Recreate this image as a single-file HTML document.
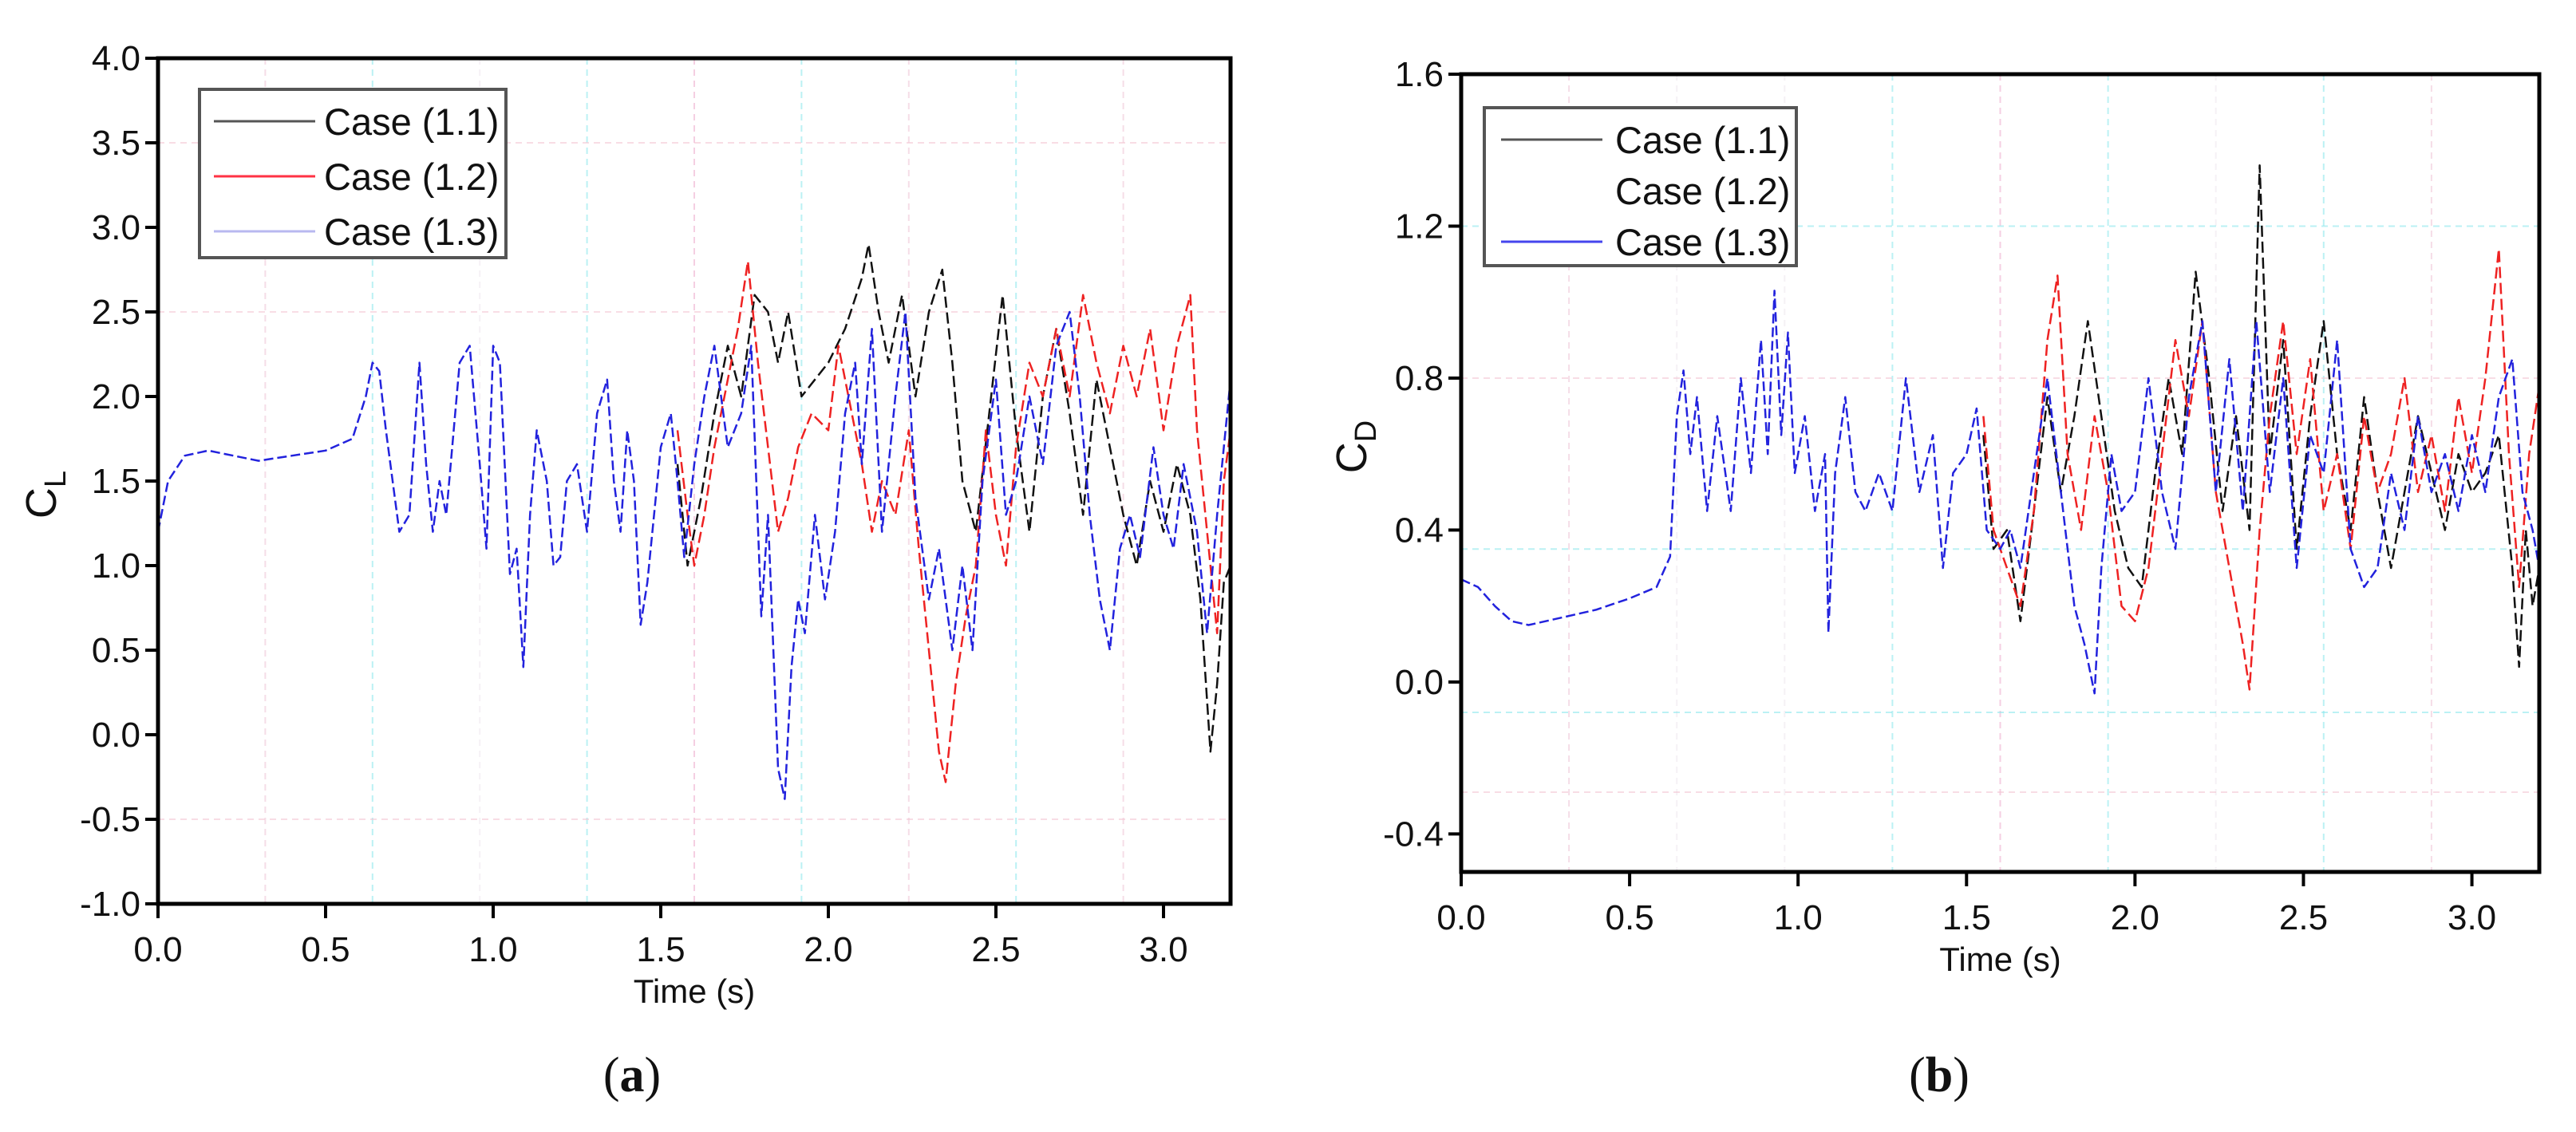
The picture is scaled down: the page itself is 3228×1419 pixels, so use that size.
<!DOCTYPE html>
<html><head><meta charset="utf-8">
<style>
html,body{margin:0;padding:0;background:#fff;}
svg{display:block;font-family:"Liberation Sans",Arial,sans-serif;}
</style></head>
<body>
<svg id="fig" width="3228" height="1419" viewBox="0 0 3228 1419">
  <g id="pa"></g>
  <g id="pb"></g>
</svg>
<script>
// ---- Chart (a): CL ----
const clT11 = [1.55,1.58,1.62,1.66,1.7,1.74,1.78,1.82,1.85,1.88,1.92,1.96,2.0,2.05,2.1,2.12,2.15,2.18,2.22,2.26,2.3,2.34,2.37,2.4,2.44,2.48,2.52,2.56,2.6,2.64,2.68,2.72,2.76,2.8,2.84,2.88,2.92,2.96,3.0,3.04,3.08,3.11,3.14,3.16,3.18,3.2];
const clV11 = [1.6,1.0,1.4,1.9,2.3,2.0,2.6,2.5,2.2,2.5,2.0,2.1,2.2,2.4,2.7,2.9,2.5,2.2,2.6,2.0,2.5,2.75,2.2,1.5,1.2,1.9,2.6,1.8,1.2,2.0,2.4,1.9,1.3,2.1,1.7,1.3,1.0,1.5,1.2,1.6,1.3,0.8,-0.1,0.3,0.9,1.0];
const clT12 = [1.55,1.58,1.6,1.63,1.66,1.7,1.73,1.76,1.79,1.82,1.85,1.88,1.91,1.95,2.0,2.03,2.06,2.1,2.13,2.16,2.2,2.24,2.27,2.3,2.33,2.35,2.38,2.41,2.44,2.47,2.5,2.53,2.56,2.6,2.64,2.68,2.72,2.76,2.8,2.84,2.88,2.92,2.96,3.0,3.04,3.08,3.1,3.13,3.16,3.18,3.2];
const clV12 = [1.8,1.3,1.0,1.3,1.7,2.1,2.4,2.8,2.2,1.7,1.2,1.4,1.7,1.9,1.8,2.3,2.0,1.6,1.2,1.5,1.3,1.8,1.1,0.5,-0.1,-0.28,0.3,0.7,1.0,1.8,1.3,1.0,1.7,2.2,2.0,2.4,2.0,2.6,2.2,1.9,2.3,2.0,2.4,1.8,2.3,2.6,1.8,1.2,0.6,1.5,1.8];
const clT13 = [0,0.03,0.08,0.15,0.2,0.3,0.4,0.5,0.58,0.62,0.64,0.66,0.68,0.7,0.72,0.75,0.78,0.8,0.82,0.84,0.86,0.9,0.93,0.96,0.98,1.0,1.02,1.05,1.07,1.09,1.11,1.13,1.16,1.18,1.2,1.22,1.25,1.28,1.31,1.34,1.36,1.38,1.4,1.42,1.44,1.46,1.48,1.5,1.53,1.55,1.57,1.6,1.63,1.66,1.7,1.74,1.77,1.8,1.82,1.85,1.87,1.89,1.91,1.93,1.96,1.99,2.02,2.05,2.08,2.1,2.13,2.16,2.2,2.23,2.26,2.3,2.33,2.37,2.4,2.43,2.46,2.5,2.53,2.56,2.6,2.64,2.68,2.72,2.75,2.78,2.81,2.84,2.87,2.9,2.93,2.97,3.0,3.03,3.06,3.1,3.13,3.16,3.2];
const clV13 = [1.2,1.5,1.65,1.68,1.66,1.62,1.65,1.68,1.75,2.0,2.2,2.15,1.8,1.5,1.2,1.3,2.2,1.6,1.2,1.5,1.3,2.2,2.3,1.6,1.1,2.3,2.2,0.95,1.1,0.4,1.3,1.8,1.5,1.0,1.05,1.5,1.6,1.2,1.9,2.1,1.5,1.2,1.8,1.5,0.65,0.9,1.3,1.7,1.9,1.5,1.05,1.6,2.0,2.3,1.7,1.9,2.3,0.7,1.3,-0.2,-0.38,0.4,0.8,0.6,1.3,0.8,1.2,1.9,2.2,1.6,2.4,1.2,2.0,2.5,1.4,0.8,1.1,0.5,1.0,0.5,1.5,2.1,1.3,1.5,2.0,1.6,2.3,2.5,2.0,1.3,0.8,0.5,1.1,1.3,1.05,1.7,1.3,1.1,1.6,1.2,0.6,1.3,2.1];
const clYTicks = [-1.0,-0.5,0.0,0.5,1.0,1.5,2.0,2.5,3.0,3.5,4.0];
const xTickVals = [0.0,0.5,1.0,1.5,2.0,2.5,3.0];

// ---- Chart (b): CD ----
const cdT11 = [1.55,1.58,1.62,1.66,1.7,1.74,1.78,1.82,1.86,1.9,1.94,1.98,2.02,2.06,2.1,2.14,2.18,2.22,2.26,2.3,2.34,2.37,2.4,2.44,2.48,2.52,2.56,2.6,2.64,2.68,2.72,2.76,2.8,2.84,2.88,2.92,2.96,3.0,3.04,3.08,3.12,3.14,3.16,3.18,3.2];
const cdV11 = [0.65,0.35,0.4,0.16,0.45,0.75,0.5,0.7,0.95,0.7,0.45,0.3,0.25,0.55,0.8,0.6,1.08,0.8,0.45,0.7,0.4,1.36,0.6,0.9,0.35,0.7,0.95,0.6,0.4,0.75,0.5,0.3,0.5,0.7,0.55,0.4,0.6,0.5,0.55,0.65,0.3,0.04,0.4,0.2,0.3];
const cdT12 = [1.55,1.58,1.62,1.66,1.7,1.74,1.77,1.8,1.84,1.88,1.92,1.96,2.0,2.04,2.08,2.12,2.16,2.2,2.24,2.28,2.32,2.34,2.37,2.4,2.44,2.48,2.52,2.56,2.6,2.64,2.68,2.72,2.76,2.8,2.84,2.88,2.92,2.96,3.0,3.04,3.08,3.11,3.14,3.17,3.2];
const cdV12 = [0.7,0.4,0.3,0.2,0.45,0.9,1.07,0.6,0.4,0.7,0.5,0.2,0.16,0.3,0.6,0.9,0.7,0.95,0.5,0.3,0.1,-0.02,0.4,0.7,0.95,0.6,0.85,0.45,0.6,0.35,0.7,0.5,0.6,0.8,0.5,0.65,0.45,0.75,0.55,0.8,1.14,0.6,0.25,0.6,0.78];
const cdT13 = [0,0.05,0.1,0.15,0.2,0.3,0.4,0.5,0.58,0.62,0.64,0.66,0.68,0.7,0.73,0.76,0.8,0.83,0.86,0.89,0.91,0.93,0.95,0.97,0.99,1.02,1.05,1.08,1.09,1.11,1.14,1.17,1.2,1.24,1.28,1.32,1.36,1.4,1.43,1.46,1.5,1.53,1.56,1.6,1.63,1.66,1.7,1.74,1.78,1.82,1.85,1.88,1.9,1.93,1.96,2.0,2.04,2.08,2.12,2.16,2.2,2.24,2.28,2.32,2.36,2.4,2.44,2.48,2.52,2.56,2.6,2.64,2.68,2.72,2.76,2.8,2.84,2.88,2.92,2.96,3.0,3.04,3.08,3.12,3.15,3.18,3.2];
const cdV13 = [0.27,0.25,0.2,0.16,0.15,0.17,0.19,0.22,0.25,0.33,0.7,0.82,0.6,0.75,0.45,0.7,0.45,0.8,0.55,0.9,0.6,1.03,0.65,0.92,0.55,0.7,0.45,0.6,0.13,0.55,0.75,0.5,0.45,0.55,0.45,0.8,0.5,0.65,0.3,0.55,0.6,0.72,0.4,0.35,0.4,0.3,0.55,0.8,0.5,0.2,0.1,-0.03,0.3,0.6,0.45,0.5,0.8,0.5,0.35,0.75,0.95,0.5,0.85,0.45,0.95,0.5,0.8,0.3,0.65,0.55,0.9,0.35,0.25,0.3,0.55,0.4,0.7,0.5,0.6,0.45,0.65,0.5,0.75,0.85,0.5,0.4,0.3];
const cdYTicks = [-0.4,0.0,0.4,0.8,1.2,1.6];

const NS = "http://www.w3.org/2000/svg";
function mk(parent, tag, attrs, text) {
  const e = document.createElementNS(NS, tag);
  for (const k in attrs) e.setAttribute(k, attrs[k]);
  if (text !== undefined) e.textContent = text;
  parent.appendChild(e);
  return e;
}

function drawChart(g, cfg) {
  const xs = v => cfg.x0 + (v - 0) / 3.2 * (cfg.x1 - cfg.x0);
  const ys = v => cfg.yb - (v - cfg.ymin) / (cfg.ymax - cfg.ymin) * (cfg.yb - cfg.yt);
  // grid
  cfg.vgrid.forEach(v => {
    const l = mk(g, 'line', {x1: xs(v[0]), x2: xs(v[0]), y1: cfg.yt, y2: cfg.yb, stroke: v[1], 'stroke-width': 2, 'stroke-dasharray': '8 6', opacity: 0.6});
    
    
  });
  cfg.hgrid.forEach(v => {
    const l = mk(g, 'line', {x1: cfg.x0, x2: cfg.x1, y1: ys(v[0]), y2: ys(v[0]), stroke: v[1], 'stroke-width': 2, 'stroke-dasharray': '8 6', opacity: 0.6});
    
    
  });
  // series
  cfg.series.forEach(s => {
    const d = s.t.map((t, i) => (i ? 'L' : 'M') + xs(t).toFixed(1) + ' ' + ys(s.v[i]).toFixed(1)).join(' ');
    const p = mk(g, 'path', {d: d, fill: 'none', stroke: s.color, 'stroke-width': 2.5, 'stroke-dasharray': s.t[0] === 0 ? '12 5' : '14 6', 'stroke-linejoin': 'round'});
    
    
  });
  // axes box
  const box = mk(g, 'rect', {x: cfg.x0, y: cfg.yt, width: cfg.x1 - cfg.x0, height: cfg.yb - cfg.yt, fill: 'none', stroke: '#000', 'stroke-width': 5});
  
  
  // y ticks
  cfg.yticks.forEach(v => {
    const y = ys(v);
    const tk = mk(g, 'line', {x1: cfg.x0 - 16, x2: cfg.x0, y1: y, y2: y, stroke: '#000', 'stroke-width': 4});
    
    
    const tx = mk(g, 'text', {x: cfg.x0 - 22, y: y + 15, 'text-anchor': 'end', 'font-size': 44, fill: '#111'}, v.toFixed(1));
    
    
  });
  // x ticks
  xTickVals.forEach(v => {
    const x = xs(v);
    const tk = mk(g, 'line', {x1: x, x2: x, y1: cfg.yb, y2: cfg.yb + 18, stroke: '#000', 'stroke-width': 4});
    
    
    const tx = mk(g, 'text', {x: x, y: cfg.yb + 72, 'text-anchor': 'middle', 'font-size': 44, fill: '#111'}, v.toFixed(1));
    
    
  });
  const xt = mk(g, 'text', {x: (cfg.x0 + cfg.x1) / 2, y: cfg.yb + 124, 'text-anchor': 'middle', 'font-size': 42, fill: '#111'}, 'Time (s)');
  
  
  const yt = mk(g, 'text', {x: 0, y: 0, 'font-size': 54, fill: '#111', transform: 'translate(' + cfg.ylabX + ',' + cfg.ylabY + ') rotate(-90)', 'text-anchor': 'middle'});
  
  
  mk(yt, 'tspan', {}, 'C');
  mk(yt, 'tspan', {'font-size': 38, dy: 12}, cfg.sub);
  // legend
  const lg = mk(g, 'g', {});
  
  
  const L = cfg.legend;
  mk(lg, 'rect', {x: L.x, y: L.y, width: L.w, height: L.h, fill: '#fff', stroke: '#555', 'stroke-width': 4});
  cfg.series.forEach((s, i) => {
    const cy = L.y + L.r0 + i * L.dr;
    if (s.legendLine) {
      const ln = mk(lg, 'line', {x1: L.x + L.lx0, x2: L.x + L.lx1, y1: cy, y2: cy, stroke: s.legendColor, 'stroke-width': 3});
      
      
    }
    const t = mk(lg, 'text', {x: L.x + L.tx, y: cy + 17, 'font-size': 47, fill: '#111'}, s.label);
    
    
  });
  const cap = mk(g, 'text', {x: cfg.capX, y: 1368, 'text-anchor': 'middle', 'font-size': 62, fill: '#111', 'font-family': '"Liberation Serif", serif'});
  
  
  mk(cap, 'tspan', {}, '(');
  mk(cap, 'tspan', {'font-weight': 'bold'}, cfg.capLetter);
  mk(cap, 'tspan', {}, ')');
}

drawChart(document.getElementById('pa'), {
  x0: 198, x1: 1542, yt: 73, yb: 1133, ymin: -1, ymax: 4,
  yticks: clYTicks, sub: 'L', ylabX: 70, ylabY: 620,
  vgrid: [[0.32,'#f0c8d8'],[0.64,'#8ee8ee'],[0.96,'#f0e8f0'],[1.28,'#8ee8ee'],[1.6,'#f0b0d0'],[1.92,'#8ee8ee'],[2.24,'#f0c8d8'],[2.56,'#8ee8ee'],[2.88,'#f0c8d8']],
  hgrid: [[3.5,'#f4c8d4'],[2.5,'#f4c8d4'],[-0.5,'#f4c8d4']],
  legend: {x: 250, y: 112, w: 384, h: 211, r0: 40, dr: 69, lx0: 18, lx1: 145, tx: 156},
  capX: 792, capLetter: 'a',
  series: [
    {name: 'case-1-1-line', label: 'Case (1.1)', t: clT11, v: clV11, color: '#111', legendColor: '#555', legendLine: true},
    {name: 'case-1-2-line', label: 'Case (1.2)', t: clT12, v: clV12, color: '#ee2222', legendColor: '#ff3344', legendLine: true},
    {name: 'case-1-3-line', label: 'Case (1.3)', t: clT13, v: clV13, color: '#2222dd', legendColor: '#b8b8f0', legendLine: true}
  ]
});

drawChart(document.getElementById('pb'), {
  x0: 1831, x1: 3182, yt: 93, yb: 1093, ymin: -0.5, ymax: 1.6,
  yticks: cdYTicks, sub: 'D', ylabX: 1712, ylabY: 560,
  vgrid: [[0.32,'#f0c8d8'],[0.64,'#f0e8f0'],[0.96,'#f0e8f0'],[1.28,'#8ee8ee'],[1.6,'#f0b0d0'],[1.92,'#8ee8ee'],[2.24,'#f0e8f0'],[2.56,'#8ee8ee'],[2.88,'#f0c8d8']],
  hgrid: [[1.2,'#8ee8ee'],[0.8,'#f4c8d4'],[0.35,'#8ee8ee'],[-0.08,'#8ee8ee'],[-0.29,'#f4c8d4']],
  legend: {x: 1860, y: 135, w: 391, h: 198, r0: 40, dr: 64, lx0: 21, lx1: 148, tx: 164},
  capX: 2430, capLetter: 'b',
  series: [
    {name: 'case-1-1-line', label: 'Case (1.1)', t: cdT11, v: cdV11, color: '#111', legendColor: '#555', legendLine: true},
    {name: 'case-1-2-line', label: 'Case (1.2)', t: cdT12, v: cdV12, color: '#ee2222', legendColor: '#fff', legendLine: false},
    {name: 'case-1-3-line', label: 'Case (1.3)', t: cdT13, v: cdV13, color: '#2222dd', legendColor: '#4444ee', legendLine: true}
  ]
});
</script>
</body></html>
